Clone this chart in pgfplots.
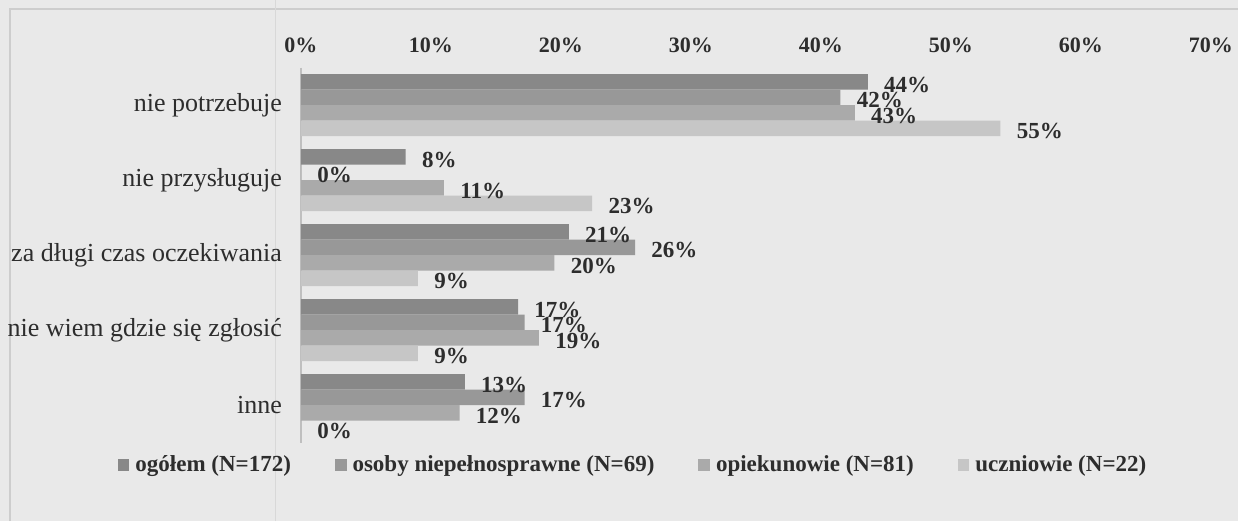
\documentclass[border=0pt]{standalone}
\usepackage{pgfplots}
\pgfplotsset{compat=1.18}
\usepackage{pgfplotstable}
\usepackage{fontspec}
\setmainfont{Liberation Serif}
\definecolor{bg}{RGB}{233,233,233}
\definecolor{sA}{RGB}{136,136,136}
\definecolor{sB}{RGB}{152,152,152}
\definecolor{sC}{RGB}{170,170,170}
\definecolor{sD}{RGB}{198,198,198}
\definecolor{txt}{RGB}{45,45,45}
\definecolor{frame}{RGB}{205,205,205}

\pgfplotstableread{
y x lab
0 43.6 44
1 8.05 8
2 20.6 21
3 16.7 17
4 12.6 13
}\serA
\pgfplotstableread{
y x lab
0 41.5 42
1 0 0
2 25.7 26
3 17.2 17
4 17.2 17
}\serB
\pgfplotstableread{
y x lab
0 42.6 43
1 11.0 11
2 19.5 20
3 18.3 19
4 12.2 12
}\serC
\pgfplotstableread{
y x lab
0 53.8 55
1 22.4 23
2 9.0 9
3 9.0 9
4 0 0
}\serD

\begin{document}
\begin{tikzpicture}
\useasboundingbox (0,0) rectangle (619pt,260.5pt);
\fill[bg] (0,0) rectangle (619pt,260.5pt);
\draw[frame, line width=0.6pt] (5pt,0) -- (5pt,256pt) -- (619pt,256pt);
\draw[frame!60!bg, line width=0.4pt] (137.5pt,0) -- (137.5pt,260.5pt);
\begin{axis}[
  at={(150.5pt,39.25pt)}, anchor=south west,
  scale only axis, width=455pt, height=187.5pt,
  xbar=0pt, bar width=7.75pt,
  xmin=0, xmax=70, ymin=-0.5, ymax=4.5, y dir=reverse,
  axis x line*=top, axis y line*=left,
  x axis line style={draw=none},
  y axis line style={draw=black!25, line width=1.4pt},
  major tick length=0pt,
  xtick={0,10,...,70},
  xticklabel={\pgfmathprintnumber{\tick}\%},
  /pgf/number format/assume math mode=true,
  xticklabel style={font=\bfseries\fontsize{11}{13}\selectfont, text=txt, yshift=4pt},
  ytick={0,1,2,3,4},
  yticklabels={nie potrzebuje, nie przysługuje, za długi czas oczekiwania, nie wiem gdzie się zgłosić, inne},
  yticklabel style={font=\fontsize{13}{15}\selectfont, text=txt, xshift=-6pt},
  point meta=explicit symbolic,
  nodes near coords={\pgfplotspointmeta\%},
  nodes near coords style={anchor=west, inner sep=0pt, xshift=8pt, yshift=-1.5pt,
    font=\bfseries\fontsize{11.5}{13}\selectfont, text=txt},
  legend style={at={(0.366,-0.06)}, anchor=center, draw=none, fill=none,
    legend columns=4, font=\bfseries\fontsize{11.5}{13}\selectfont, text=txt,
    /tikz/every even column/.append style={column sep=20pt},
    /tikz/every odd column/.append style={column sep=1pt}},
  legend image code/.code={\fill[#1] (0pt,-2.9pt) rectangle (5.8pt,2.9pt);},
]
\addplot[fill=sA, draw=none, bar shift=11.625pt] table[x=x, y=y, meta=lab]{\serA};
\addplot[fill=sB, draw=none, bar shift=3.875pt] table[x=x, y=y, meta=lab]{\serB};
\addplot[fill=sC, draw=none, bar shift=-3.875pt] table[x=x, y=y, meta=lab]{\serC};
\addplot[fill=sD, draw=none, bar shift=-11.625pt] table[x=x, y=y, meta=lab]{\serD};
\legend{ogółem (N=172), osoby niepełnosprawne (N=69), opiekunowie (N=81), uczniowie (N=22)}
\end{axis}
\end{tikzpicture}
\end{document}
